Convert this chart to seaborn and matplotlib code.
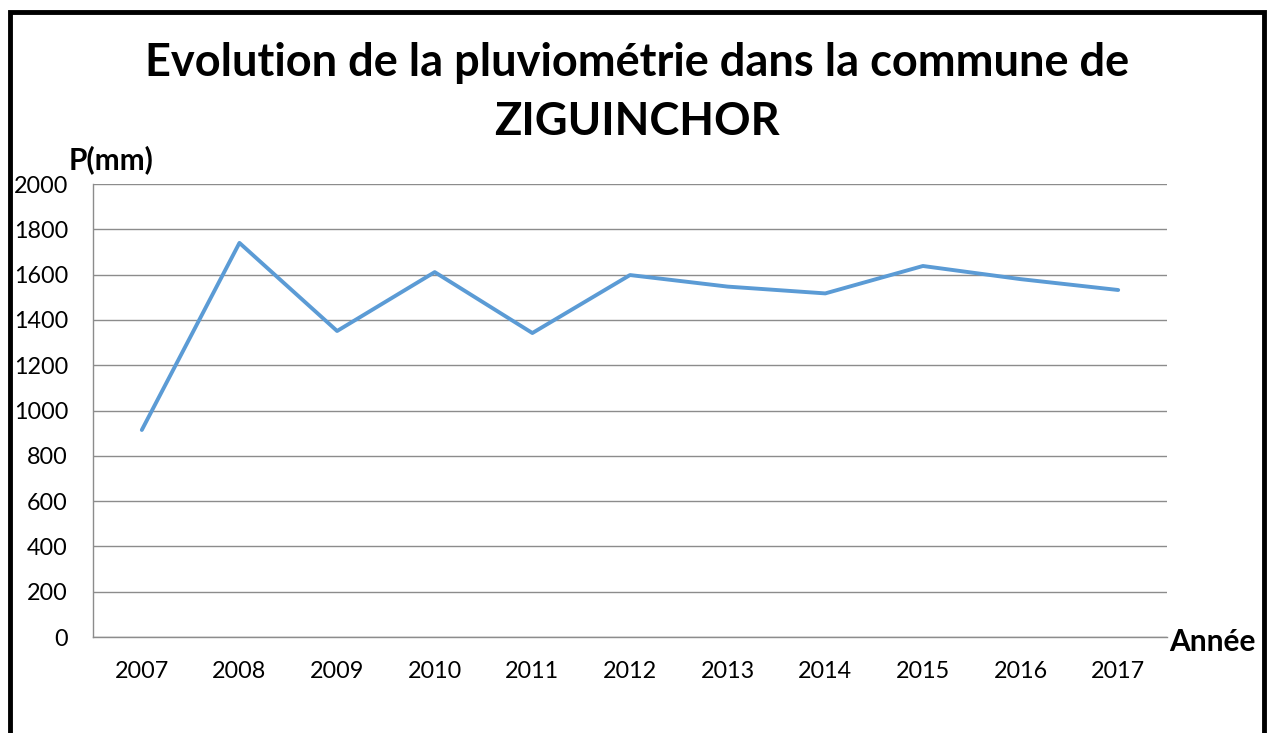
import matplotlib
matplotlib.use("Agg")
import matplotlib.pyplot as plt
import seaborn as sns
import pandas as pd
import numpy as np
from matplotlib.patches import Rectangle

years = ["2007", "2008", "2009", "2010", "2011", "2012", "2013", "2014", "2015", "2016", "2017"]
rain_mm = [914, 1740, 1351, 1611, 1342, 1598, 1547, 1517, 1638, 1580, 1532]
y_ticks = [0, 200, 400, 600, 800, 1000, 1200, 1400, 1600, 1800, 2000]

sns.set_theme(style="white")
plt.rcParams['font.family'] = ['Lato', 'DejaVu Sans']
plt.rcParams['text.color'] = 'black'

df = pd.DataFrame({"pos": np.arange(len(years)), "P": rain_mm})

fig = plt.figure(figsize=(12.73, 7.33), dpi=100)
ax = fig.add_axes([93/1273, 1-637/733, (1167-93)/1273, (637-184)/733])

sns.lineplot(data=df, x="pos", y="P", ax=ax, color="#5B9BD5", linewidth=2.8)

ax.set_xlim(-0.5, len(years) - 0.5)
ax.set_ylim(0, 2000)
ax.set_yticks(y_ticks)
ax.set_yticklabels([str(v) for v in y_ticks], fontsize=16.8, color="black")
ax.set_xticks(np.arange(len(years)))
ax.set_xticklabels(years, fontsize=16.8, color="black")
ax.set_xticks(np.arange(len(years) + 1) - 0.5, minor=True)
ax.tick_params(axis="x", which="major", length=0, pad=17)
ax.tick_params(axis="x", which="minor", length=7, width=1, color="#8c8c8c", direction="out")
ax.tick_params(axis="y", length=7, width=1, color="#8c8c8c", direction="out", pad=11)
ax.grid(axis="y", color="#8c8c8c", linewidth=1)
ax.set_axisbelow(True)
for s in ["top", "right"]:
    ax.spines[s].set_visible(False)
for s in ["left", "bottom"]:
    ax.spines[s].set_color("#8c8c8c")
    ax.spines[s].set_linewidth(1)
ax.set_xlabel("")
ax.set_ylabel("")

fig.text(637/1273, 1-63/733, "Evolution de la pluviométrie dans la commune de",
         ha="center", va="center", fontsize=32.5, fontweight="bold", color="black")
fig.text(637/1273, 1-122/733, "ZIGUINCHOR",
         ha="center", va="center", fontsize=32.5, fontweight="bold", color="black")
fig.text(69/1273, 1-160/733, "P(mm)", ha="left", va="center", fontsize=21.5,
         fontweight="bold", color="black")
fig.text(1169/1273, 1-642/733, "Année", ha="left", va="center", fontsize=21.5,
         fontweight="bold", color="black")

fig.patches.append(Rectangle((10/1273, -0.01), (1264-10)/1273, 1.01 - 12/733,
                             transform=fig.transFigure, fill=False,
                             edgecolor="black", linewidth=3.5))

fig.savefig("out.png", dpi=100)
